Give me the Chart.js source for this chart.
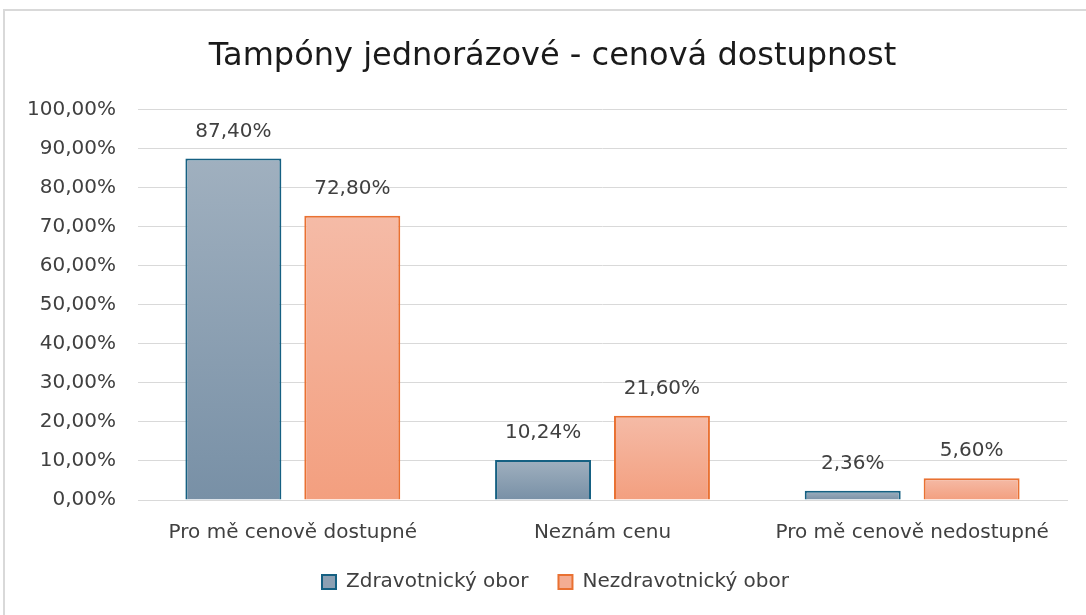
<!DOCTYPE html>
<html>
<head>
<meta charset="utf-8">
<script src="https://cdn.jsdelivr.net/npm/chart.js@4.4.1/dist/chart.umd.min.js"></script>
<style>
  html, body { margin: 0; padding: 0; background: #fff; overflow: hidden; }
  #wrap { position: relative; width: 1086px; height: 615px; overflow: hidden; }
  #frame { position: absolute; left: 3px; top: 9px; width: 1200px; height: 700px;
           border-left: 2px solid #d9d9d9; border-top: 2px solid #d9d9d9; pointer-events: none; }
  canvas { position: absolute; left: 0; top: 0; }
</style>
</head>
<body>
<div id="wrap">
  <canvas id="chart" width="1086" height="615"></canvas>
  <div id="frame"></div>
</div>
<script>
const categories = ["Pro mě cenově dostupné", "Neznám cenu", "Pro mě cenově nedostupné"];
const seriesNames = ["Zdravotnický obor", "Nezdravotnický obor"];
const zdravotnicky = [87.40, 10.24, 2.36];
const nezdravotnicky = [72.80, 21.60, 5.60];

const FONT = "'DejaVu Sans', sans-serif";
const TEXT = "#404040";

function pct(v) {
  return v.toFixed(2).replace(".", ",") + "%";
}

// gradient per bar, light at top, darker at base
function barGradient(top, bottom, solid) {
  return (ctx) => {
    const chart = ctx.chart;
    if (!chart.chartArea || ctx.type !== "data") return solid;
    const y = chart.scales.y;
    const yTop = y.getPixelForValue(ctx.raw);
    const yBase = y.getPixelForValue(0);
    if (!isFinite(yTop) || yBase - yTop < 1) return solid;
    const g = chart.ctx.createLinearGradient(0, yTop, 0, yBase);
    g.addColorStop(0, top);
    g.addColorStop(1, bottom);
    return g;
  };
}

const valueLabels = {
  id: "valueLabels",
  afterDatasetsDraw(chart) {
    const c = chart.ctx;
    c.save();
    c.font = "20px " + FONT;
    c.fillStyle = TEXT;
    c.textAlign = "center";
    c.textBaseline = "middle";
    chart.data.datasets.forEach((ds, i) => {
      chart.getDatasetMeta(i).data.forEach((bar, j) => {
        c.fillText(pct(ds.data[j]), bar.x, bar.y - 27);
      });
    });
    c.restore();
  }
};

// the original chart frame is wider than the window, so title and legend sit right of centre
const shiftBlocks = {
  id: "shiftBlocks",
  afterLayout(chart) {
    chart.titleBlock.left += 19;
    chart.titleBlock.right += 19;
    chart.legend.left += 22;
    chart.legend.right += 22;
  }
};

new Chart(document.getElementById("chart"), {
  type: "bar",
  data: {
    labels: categories,
    datasets: [
      {
        label: seriesNames[0],
        data: zdravotnicky,
        backgroundColor: barGradient("#a0b0bf", "#7890a6", "#8ca0b3"),
        borderColor: "#156082",
        borderWidth: 2,
        legendFill: "#8ca0b3"
      },
      {
        label: seriesNames[1],
        data: nezdravotnicky,
        backgroundColor: barGradient("#f5bba7", "#f39f7f", "#f4ad93"),
        borderColor: "#e97132",
        borderWidth: 2,
        legendFill: "#f4ad93"
      }
    ]
  },
  options: {
    responsive: false,
    animation: false,
    layout: { padding: { top: 12, right: 19, bottom: 13, left: 0 } },
    categoryPercentage: 0.768,
    barPercentage: 0.807,
    plugins: {
      title: {
        display: true,
        text: "Tampóny jednorázové - cenová dostupnost",
        color: "#1a1a1a",
        font: { family: FONT, size: 32, weight: "normal" },
        padding: { top: 25, bottom: 34 }
      },
      legend: {
        position: "bottom",
        labels: {
          font: { family: FONT, size: 20 },
          color: TEXT,
          boxWidth: 14,
          boxHeight: 14,
          padding: 30,
          generateLabels(chart) {
            return chart.data.datasets.map((ds, i) => ({
              text: ds.label,
              fillStyle: ds.legendFill,
              strokeStyle: ds.borderColor,
              lineWidth: 2,
              fontColor: TEXT,
              datasetIndex: i
            }));
          }
        }
      },
      tooltip: { enabled: false }
    },
    scales: {
      x: {
        grid: { display: false },
        border: { color: "#d9d9d9", width: 1 },
        ticks: { font: { family: FONT, size: 20 }, color: TEXT, padding: 13 },
        afterFit(scale) { scale.height = 42; }
      },
      y: {
        min: 0,
        max: 100,
        ticks: {
          stepSize: 10,
          font: { family: FONT, size: 20 },
          color: TEXT,
          padding: 22,
          callback: (v) => pct(v)
        },
        grid: { color: "#d9d9d9", lineWidth: 1, drawTicks: false },
        border: { display: false },
        afterFit(scale) { scale.width = 138; }
      }
    }
  },
  plugins: [valueLabels, shiftBlocks]
});
</script>
</body>
</html>
